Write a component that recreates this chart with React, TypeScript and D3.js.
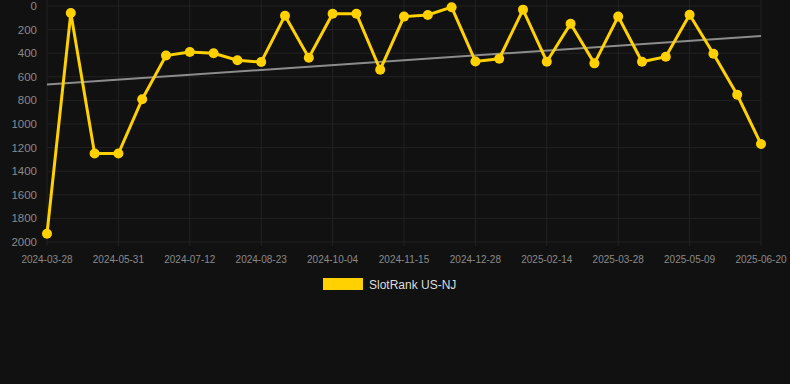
import React from "react";
import * as d3 from "d3";

const dates = [
  "2024-03-28", "2024-04-19", "2024-05-10", "2024-05-31", "2024-06-14", "2024-06-28",
  "2024-07-12", "2024-07-26", "2024-08-09", "2024-08-23", "2024-09-06", "2024-09-20",
  "2024-10-04", "2024-10-18", "2024-11-01", "2024-11-15", "2024-11-29", "2024-12-13",
  "2024-12-28", "2025-01-14", "2025-01-31", "2025-02-14", "2025-02-28", "2025-03-14",
  "2025-03-28", "2025-04-11", "2025-04-25", "2025-05-09", "2025-05-23", "2025-06-06",
  "2025-06-20",
];
const rankValues = [
  1930, 60, 1250, 1250, 790, 420, 390, 400, 460, 475, 82, 438, 65, 65, 540, 90, 76, 10,
  470, 447, 31, 472, 150, 486, 90, 472, 430, 74, 404, 752, 1170,
];
const trendValues = [665, 255];
const yTicks = [0, 200, 400, 600, 800, 1000, 1200, 1400, 1600, 1800, 2000];
const seriesName = "SlotRank US-NJ";

const W = 790;
const H = 384;
const left = 47;
const right = 761;
const top = 6;
const bottom = 242;

export default function App() {
  const x = d3.scalePoint<string>().domain(dates).range([left, right]);
  const y = d3.scaleLinear().domain([0, 2000]).range([top, bottom]);
  const line = d3
    .line<number>()
    .x((_, i) => x(dates[i]) as number)
    .y((d) => y(d));
  const labelDates = dates.filter((_, i) => i % 3 === 0);
  const font = "Liberation Sans, Arial, sans-serif";
  const gold = "#FFD100";
  return (
    <svg
      width={W}
      height={H}
      style={{ position: "absolute", left: 0, top: 0, background: "#111111" }}
    >
      <rect x={0} y={0} width={W} height={H} fill="#111111" />
      {yTicks.map((t) => (
        <line key={"gy" + t} x1={left} x2={right} y1={y(t)} y2={y(t)} stroke="#232323" strokeWidth={1} />
      ))}
      {labelDates.map((d) => (
        <line key={"gx" + d} x1={x(d)} x2={x(d)} y1={0} y2={bottom + 4} stroke="#232323" strokeWidth={1} />
      ))}
      {yTicks.map((t) => (
        <text
          key={"ty" + t}
          x={37}
          y={y(t)}
          dy="0.35em"
          textAnchor="end"
          fill="#8a8a8a"
          fontSize={11.5}
          fontFamily={font}
        >
          {t}
        </text>
      ))}
      {labelDates.map((d) => (
        <text
          key={"tx" + d}
          x={x(d)}
          y={263}
          textAnchor="middle"
          fill="#8a8a8a"
          fontSize={10}
          fontFamily={font}
        >
          {d}
        </text>
      ))}
      <line
        x1={x(dates[0])}
        x2={x(dates[dates.length - 1])}
        y1={y(trendValues[0])}
        y2={y(trendValues[1])}
        stroke="#8c8c8c"
        strokeWidth={2}
      />
      <path d={line(rankValues) || ""} fill="none" stroke={gold} strokeWidth={3} strokeLinejoin="miter" />
      {rankValues.map((v, i) => (
        <circle key={"p" + i} cx={x(dates[i])} cy={y(v)} r={5} fill={gold} />
      ))}
      <rect x={323} y={278} width={40} height={12} fill={gold} />
      <text x={369} y={289} fill="#dddddd" fontSize={12} fontFamily={font}>
        {seriesName}
      </text>
    </svg>
  );
}
